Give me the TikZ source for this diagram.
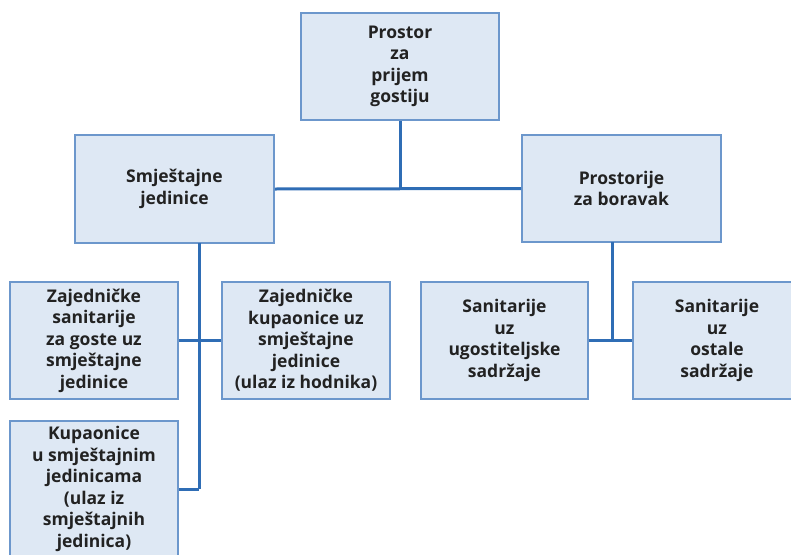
\documentclass[tikz,border=0pt]{standalone}
\usepackage{fontspec}
\setmainfont{Open Sans}
\definecolor{boxfill}{HTML}{DEE8F4}
\definecolor{boxline}{HTML}{6C97CC}
\definecolor{conn}{HTML}{2F6DB5}
\definecolor{txt}{HTML}{222222}
\begin{document}
\begin{tikzpicture}[x=1pt,y=-1pt,
  box/.style={draw=boxline,line width=1.8pt,fill=boxfill,align=center,
    font=\fontsize{17.5}{21.5}\selectfont\bfseries,text=txt,inner sep=0pt},
  conn/.style={draw=conn,line width=3pt}]
\useasboundingbox (0,0) rectangle (791,554);
\node[box,minimum width=198pt,minimum height=107pt] (top) at (400,66.5) {Prostor\\za\\prijem\\gostiju};
\node[box,minimum width=199pt,minimum height=108pt] (smj) at (174.5,189) {Smještajne\\jedinice};
\node[box,minimum width=199pt,minimum height=107pt] (pro) at (621.5,188.5) {Prostorije\\za boravak};
\node[box,minimum width=168pt,minimum height=117pt] (zs) at (94,340.5) {Zajedničke\\sanitarije\\za goste uz\\smještajne\\jedinice};
\node[box,minimum width=168pt,minimum height=117pt] (zk) at (306,340.5) {Zajedničke\\kupaonice uz\\smještajne\\jedinice\\(ulaz iz hodnika)};
\node[box,minimum width=168pt,minimum height=136pt] (kup) at (94,489) {Kupaonice\\u smještajnim\\jedinicama\\(ulaz iz\\smještajnih\\jedinica)};
\node[box,minimum width=167pt,minimum height=117pt] (su) at (504.5,340.5) {Sanitarije\\uz\\ugostiteljske\\sadržaje};
\node[box,minimum width=168pt,minimum height=117pt] (so) at (717,340.5) {Sanitarije\\uz\\ostale\\sadržaje};
\coordinate (lt) at (199,243);
\coordinate (lb) at (199,489);
\coordinate (rt) at (612,242);
\coordinate (rb) at (612,340.5);
\draw[conn] (smj.east) -- (pro.west);
\draw[conn] (top.south) -- (top.south |- smj.east);
\draw[conn] (lt) -- (lb);
\draw[conn] (zs.east) -- (zk.west);
\draw[conn] (kup.east) -- (lb);
\draw[conn] (rt) -- (rb);
\draw[conn] (su.east) -- (so.west);
\end{tikzpicture}
\end{document}
